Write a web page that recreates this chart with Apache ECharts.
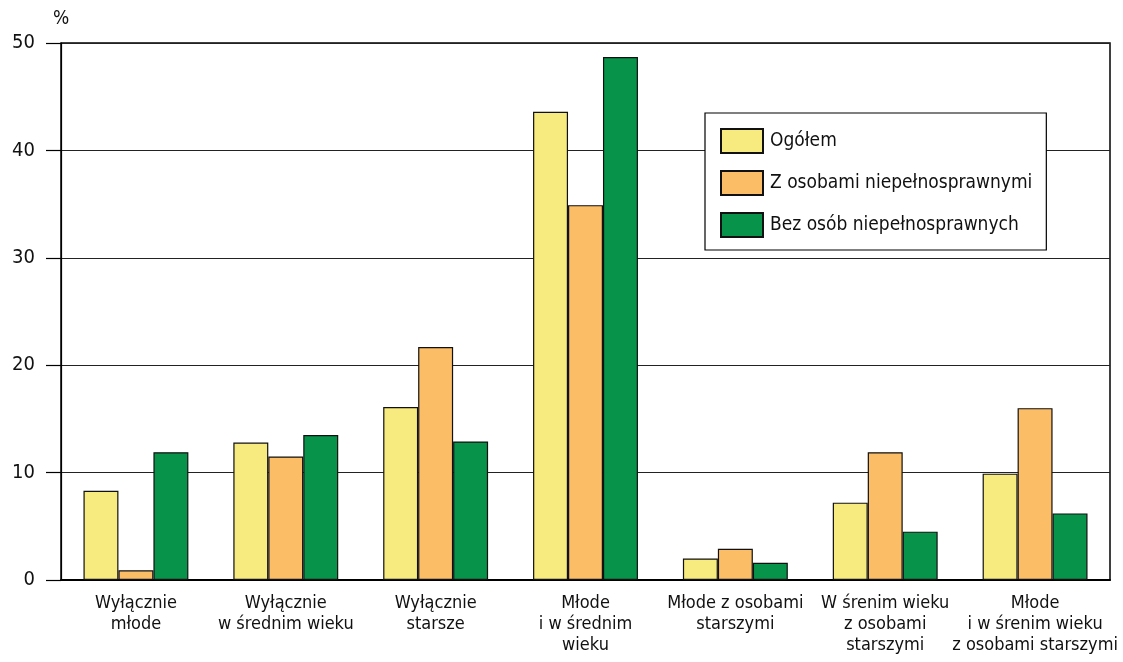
<!DOCTYPE html>
<html>
<head>
<meta charset="utf-8">
<script src="https://cdn.jsdelivr.net/npm/echarts@6/dist/echarts.min.js"></script>
<style>
html,body{margin:0;padding:0;background:#fff;}
#chart{width:1123px;height:662px;}
</style>
</head>
<body>
<div id="chart"></div>
<script>
const categories = [
  "Wyłącznie\nmłode",
  "Wyłącznie\nw średnim wieku",
  "Wyłącznie\nstarsze",
  "Młode\ni w średnim\nwieku",
  "Młode z osobami\nstarszymi",
  "W śrenim wieku\nz osobami\nstarszymi",
  "Młode\ni w śrenim wieku\nz osobami starszymi"
];
const seriesNames = ["Ogółem", "Z osobami niepełnosprawnymi", "Bez osób niepełnosprawnych"];
const ogolem = [8.3, 12.8, 16.1, 43.6, 2.0, 7.2, 9.9];
const zOsobami = [0.9, 11.5, 21.7, 34.9, 2.9, 11.9, 16.0];
const bezOsob = [11.9, 13.5, 12.9, 48.7, 1.6, 4.5, 6.2];
const colors = ["#F7EA7E", "#FBBD66", "#07944A"];

const FONT = "'Liberation Sans Narrow', 'Arial Narrow', 'DejaVu Sans Condensed', sans-serif";
const chart = echarts.init(document.getElementById('chart'));
const values = [ogolem, zOsobami, bezOsob];
chart.setOption({
  animation: false,
  textStyle: { fontFamily: FONT },
  grid: { left: 61, right: 13, top: 43, bottom: 82, show: true, borderColor: '#000', borderWidth: 1.5, backgroundColor: 'transparent' },
  legend: {
    orient: 'vertical',
    left: 705, top: 113,
    padding: [15, 14, 12, 15],
    itemWidth: 42, itemHeight: 24, itemGap: 16,
    icon: 'rect',
    borderColor: '#000', borderWidth: 1.2, backgroundColor: '#fff',
    textStyle: { fontFamily: FONT, fontSize: 19, color: '#111', padding: [0, 0, 0, 2] },
    data: seriesNames
  },
  xAxis: {
    type: 'category',
    data: categories,
    axisLine: { lineStyle: { color: '#000', width: 2 } },
    axisTick: { show: false },
    axisLabel: { fontFamily: FONT, fontSize: 18, color: '#111', lineHeight: 21, margin: 13, interval: 0 }
  },
  yAxis: {
    type: 'value',
    min: 0, max: 50, interval: 10,
    name: '%', nameLocation: 'end', nameGap: 14,
    nameTextStyle: { fontFamily: FONT, fontSize: 19, color: '#111', align: 'left', padding: [0, 0, 0, -8] },
    axisLine: { show: true, lineStyle: { color: '#000', width: 1.2 } },
    axisTick: { show: true, inside: false, length: 15, lineStyle: { color: '#000', width: 1.2 } },
    axisLabel: { fontFamily: FONT, fontSize: 20, color: '#111', margin: 26 },
    splitLine: { lineStyle: { color: '#222', width: 1.2 } }
  },
  series: seriesNames.map((n, i) => ({
    name: n,
    type: 'bar',
    data: values[i],
    barGap: '0%',
    barCategoryGap: '30%',
    itemStyle: { color: colors[i], borderColor: '#111', borderWidth: 1.2 }
  }))
});
</script>
</body>
</html>
